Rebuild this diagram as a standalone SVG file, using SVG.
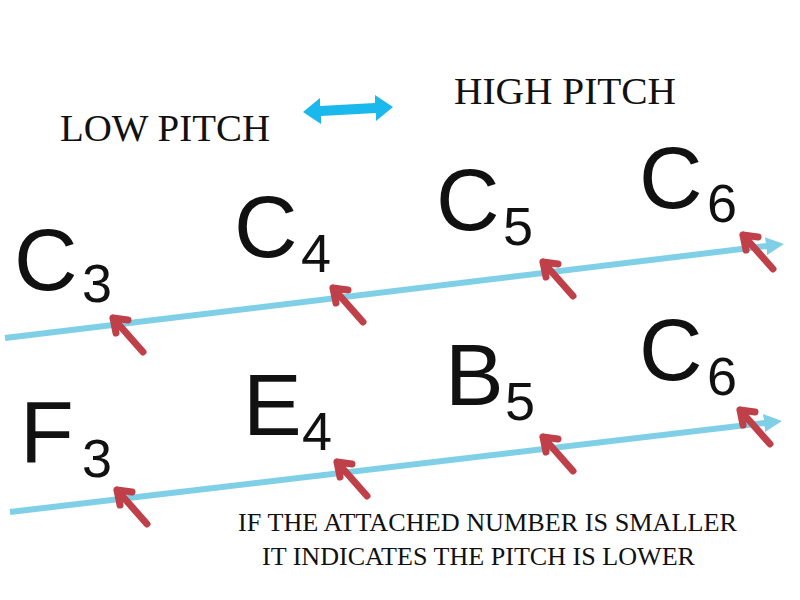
<svg xmlns="http://www.w3.org/2000/svg" width="800" height="600" viewBox="0 0 800 600">
<style>
.n{font-family:"Liberation Sans",Arial,sans-serif;fill:#111}
.b{font-size:88px}.s{font-size:54px}
.t{font-family:"Liberation Serif","Times New Roman",serif;fill:#111}
.ln{stroke:#7fd0e6;stroke-width:6;fill:none}
.ra{stroke:#c0404a;stroke-width:7;fill:none;stroke-linecap:round;stroke-linejoin:round}
</style>
<defs>
<marker id="bh" viewBox="0 0 10 10" refX="5" refY="5" markerWidth="3" markerHeight="3" orient="auto"><path d="M0,0L10,5L0,10z" fill="#7fd0e6"/></marker>
<g id="ra"><path class="ra" d="M30,34L0,0M0,0L3,15M0,0L15,2"/></g>
</defs>
<rect width="800" height="600" fill="#fff"/>
<g id="connectors">
<path class="ln" d="M5,338L775,245" marker-end="url(#bh)"/>
<path class="ln" d="M10,512L773,422" marker-end="url(#bh)"/>
<path d="M303,112L320,98L320,106L375,103L375,95L393,107L376,121L376,113L321,116L321,124Z" fill="#1ab8ec"/>
<use href="#ra" x="113" y="318"/><use href="#ra" x="333" y="288"/><use href="#ra" x="543" y="262"/><use href="#ra" x="743" y="235"/>
<use href="#ra" x="117" y="490"/><use href="#ra" x="337" y="462"/><use href="#ra" x="543" y="437"/><use href="#ra" x="740" y="410"/>
</g>
<g id="labels">
<text class="t" x="60" y="141" font-size="38" textLength="210" lengthAdjust="spacingAndGlyphs">LOW PITCH</text>
<text class="t" x="454" y="104" font-size="37" textLength="222" lengthAdjust="spacingAndGlyphs">HIGH PITCH</text>
<text class="t" x="238" y="531" font-size="25" textLength="499" lengthAdjust="spacingAndGlyphs">IF THE ATTACHED NUMBER IS SMALLER</text>
<text class="t" x="262" y="565" font-size="25" textLength="433" lengthAdjust="spacingAndGlyphs">IT INDICATES THE PITCH IS LOWER</text>
</g>
<g id="C3"><text class="n b" x="14" y="290">C</text><text class="n s" x="82" y="302">3</text></g>
<g id="C4"><text class="n b" x="234" y="257">C</text><text class="n s" x="301" y="272">4</text></g>
<g id="C5"><text class="n b" x="436" y="230">C</text><text class="n s" x="503" y="245">5</text></g>
<g id="C6a"><text class="n b" x="639" y="208">C</text><text class="n s" x="707" y="222">6</text></g>
<g id="F3"><text class="n b" x="20" y="462">F</text><text class="n s" x="82" y="477">3</text></g>
<g id="E4"><text class="n b" x="243" y="435">E</text><text class="n s" x="302" y="450">4</text></g>
<g id="B5"><text class="n b" x="445" y="405">B</text><text class="n s" x="505" y="420">5</text></g>
<g id="C6b"><text class="n b" x="639" y="380">C</text><text class="n s" x="707" y="395">6</text></g>
</svg>
